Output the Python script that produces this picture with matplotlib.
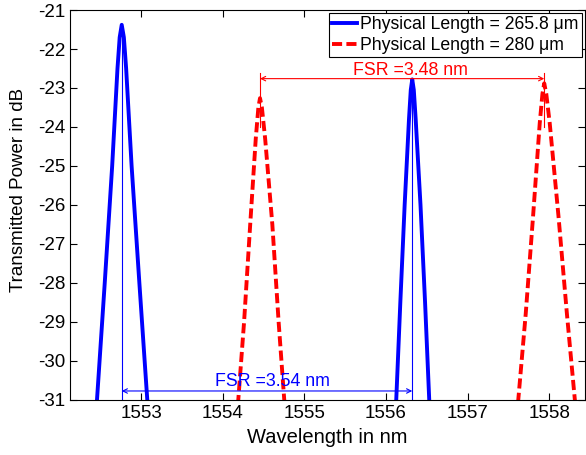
import matplotlib
matplotlib.use('Agg')
import matplotlib.pyplot as plt

plt.rcParams['font.family'] = ['Liberation Sans', 'DejaVu Sans']
plt.rcParams['axes.unicode_minus'] = False

# peak outlines (wavelength in nm, power in dB);
# points below -31 dB fall outside the axes and get clipped
blueWl = [1552.445, 1552.461, 1552.556, 1552.647, 1552.712, 1552.739, 1552.764,
          1552.790, 1552.818, 1552.885, 1552.980, 1553.077, 1553.093,
          1556.115, 1556.125, 1556.175, 1556.228, 1556.281, 1556.303, 1556.321,
          1556.340, 1556.363, 1556.422, 1556.478, 1556.529, 1556.539]
bluePw = [-31.5, -31.0, -28.0, -25.0, -22.5, -21.7, -21.38,
          -21.7, -22.5, -25.0, -28.0, -31.0, -31.5,
          -31.5, -31.0, -28.5, -26.0, -23.8, -23.05, -22.78,
          -23.05, -23.8, -26.0, -28.5, -31.0, -31.5]

redWl = [1554.173, 1554.191, 1554.262, 1554.337, 1554.405, 1554.437, 1554.457,
         1554.480, 1554.520, 1554.608, 1554.685, 1554.754, 1554.772,
         1557.598, 1557.619, 1557.710, 1557.800, 1557.882, 1557.915, 1557.937,
         1557.962, 1558.004, 1558.112, 1558.215, 1558.312, 1558.334]
redPw = [-31.5, -31.0, -29.0, -26.5, -24.3, -23.5, -23.26,
         -23.5, -24.3, -26.5, -29.0, -31.0, -31.5,
         -31.5, -31.0, -28.8, -26.3, -23.9, -23.15, -22.88,
         -23.15, -23.9, -26.3, -28.8, -31.0, -31.5]

labels = ['Physical Length = 265.8 \u03bcm', 'Physical Length = 280 \u03bcm']

# FSR markers (peak wavelengths)
blueFsr = (1552.764, 1556.321)
redFsr = (1554.457, 1557.937)

fig = plt.figure(figsize=(5.86, 4.55), dpi=100)
ax = fig.add_axes([0.1195, 0.121, 0.8785, 0.857])

ax.plot(blueWl, bluePw, color='#0000ff', linewidth=2.8, label=labels[0],
        solid_joinstyle='round')
ax.plot(redWl, redPw, color='#ff0000', linewidth=2.8, linestyle=(0, (2.6, 1.1)),
        label=labels[1])

# blue FSR annotation
ax.plot([blueFsr[0]] * 2, [-21.65, -31], color='#0000ff', linewidth=0.8)
ax.plot([blueFsr[1]] * 2, [-22.95, -31], color='#0000ff', linewidth=0.8)
ax.annotate('', xy=(blueFsr[0], -30.77), xytext=(blueFsr[1], -30.77),
            arrowprops=dict(arrowstyle='<->', color='#0000ff', lw=0.8,
                            mutation_scale=8, shrinkA=0, shrinkB=0))
ax.text(1554.61, -30.53, 'FSR =3.54 nm', color='#0000ff',
        fontsize=12.8, ha='center', va='center')

# red FSR annotation
for wl in redFsr:
    ax.plot([wl, wl], [-22.62, -24.0], color='#ff0000', linewidth=0.8)
ax.annotate('', xy=(redFsr[0], -22.76), xytext=(redFsr[1], -22.76),
            arrowprops=dict(arrowstyle='<->', color='#ff0000', lw=0.8,
                            mutation_scale=8, shrinkA=0, shrinkB=0))
ax.text(1556.30, -22.56, 'FSR =3.48 nm', color='#ff0000',
        fontsize=12.8, ha='center', va='center')

ax.set_xlim(1552.131, 1558.434)
ax.set_ylim(-31, -21)
ax.set_xticks([1553, 1554, 1555, 1556, 1557, 1558])
ax.set_yticks(range(-31, -20))
ax.tick_params(direction='in', top=True, right=True, length=5, labelsize=13.5)
ax.set_xlabel('Wavelength in nm', fontsize=14.5)
ax.set_ylabel('Transmitted Power in dB', fontsize=13.5)
ax.yaxis.set_label_coords(-0.084, 0.538)
ax.xaxis.set_label_coords(0.5, -0.072)

leg = ax.legend(loc='upper right', fontsize=12.7, handlelength=1.4, handletextpad=0.2,
                borderpad=0.2, labelspacing=0.2, borderaxespad=0.15,
                fancybox=False, framealpha=1)
leg.get_frame().set_edgecolor('black')
leg.get_frame().set_linewidth(0.8)

fig.savefig('out.png', dpi=100)
